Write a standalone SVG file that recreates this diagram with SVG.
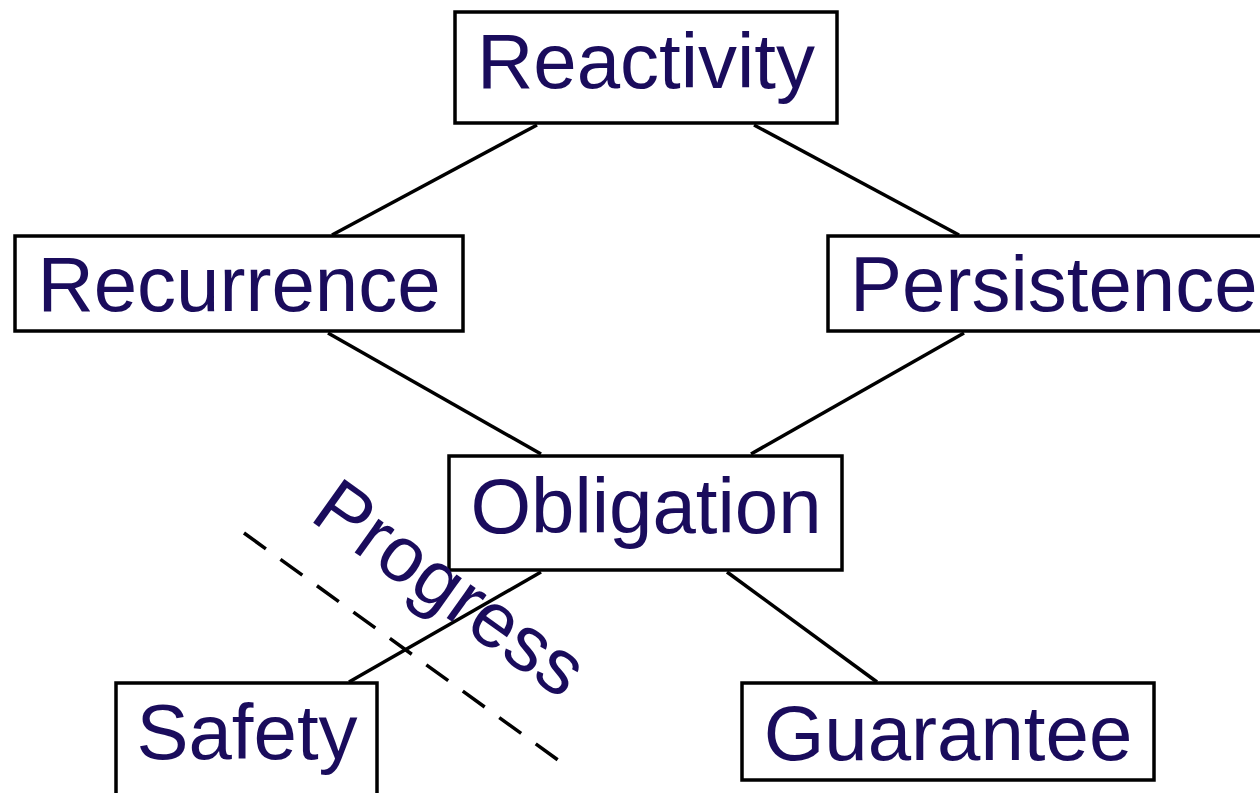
<svg xmlns="http://www.w3.org/2000/svg" width="1260" height="793" viewBox="0 0 1260 793">
<style>
.box{fill:#fff;stroke:#000;stroke-width:3.5}
.lbl{font-family:"Liberation Sans",Arial,sans-serif;font-size:78px;fill:#1a0c5c}
.edge{stroke:#000;stroke-width:3.5;fill:none}
.dash{stroke:#000;stroke-width:3.5;fill:none;stroke-dasharray:27 18}
</style>
<rect width="1260" height="793" fill="#fff"/>
<g id="connectors">
<line class="edge" x1="537" y1="125" x2="332" y2="235"/>
<line class="edge" x1="754" y1="125" x2="959" y2="235"/>
<line class="edge" x1="328" y1="333" x2="541" y2="454"/>
<line class="edge" x1="964" y1="333" x2="751" y2="454"/>
<line class="edge" x1="541" y1="572" x2="349" y2="682"/>
<line class="edge" x1="727" y1="572" x2="877" y2="682"/>
<line class="dash" x1="244" y1="533" x2="558" y2="760"/>
</g>
<g id="reactivity"><rect class="box" x="455" y="12" width="382" height="111"/><text class="lbl" x="646" y="88" text-anchor="middle">Reactivity</text></g>
<g id="recurrence"><rect class="box" x="15" y="236" width="448" height="95"/><text class="lbl" x="239" y="311" text-anchor="middle">Recurrence</text></g>
<g id="persistence"><rect class="box" x="828" y="236" width="440" height="95"/><text class="lbl" x="850" y="311">Persistence</text></g>
<g id="obligation"><rect class="box" x="449" y="456" width="393" height="114"/><text class="lbl" x="646" y="533" text-anchor="middle">Obligation</text></g>
<g id="safety"><rect class="box" x="116" y="683" width="261" height="130"/><text class="lbl" x="247" y="759" text-anchor="middle">Safety</text></g>
<g id="guarantee"><rect class="box" x="742" y="683" width="412" height="97"/><text class="lbl" x="948" y="760" text-anchor="middle">Guarantee</text></g>
<g id="progress"><text class="lbl" transform="translate(308,519) rotate(35.5)">Progress</text></g>
</svg>
